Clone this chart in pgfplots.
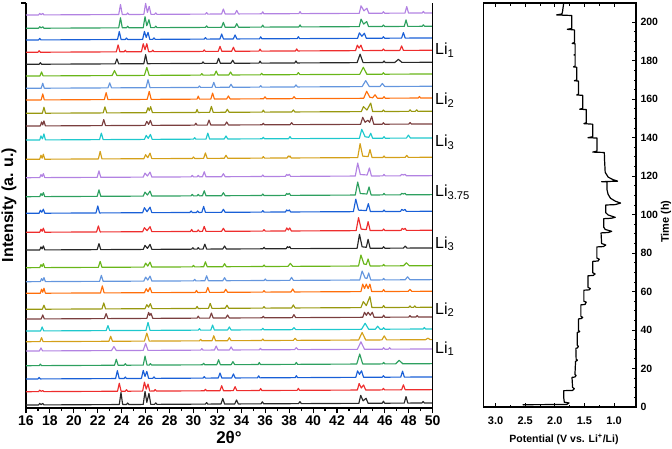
\documentclass[border=0pt]{standalone}
\usepackage{fontspec}
\setmainfont{Liberation Sans}
\usepackage{pgfplots}
\pgfplotsset{compat=1.18}
\definecolor{cK}{RGB}{40,40,40}
\definecolor{cR}{RGB}{238,45,45}
\definecolor{cB}{RGB}{25,95,215}
\definecolor{cG}{RGB}{45,160,95}
\definecolor{cP}{RGB}{178,130,226}
\definecolor{cY}{RGB}{212,160,25}
\definecolor{cC}{RGB}{30,200,205}
\definecolor{cN}{RGB}{122,62,62}
\definecolor{cO}{RGB}{152,152,15}
\definecolor{cE}{RGB}{255,110,10}
\definecolor{cL}{RGB}{100,150,222}
\definecolor{cM}{RGB}{105,182,25}
\begin{document}
\begin{tikzpicture}[x=1pt,y=1pt]
\useasboundingbox (0,0) rectangle (672,448);
\begin{axis}[at={(26pt,40pt)}, anchor=south west, scale only axis,
  width=406.7pt, height=405pt, xmin=16, xmax=50, ymin=0, ymax=405,
  axis lines=left, axis line style={-, line width=1.3pt},
  xtick={16,18,...,50}, minor x tick num=1, ytick={405}, yticklabels={},
  tick align=outside, major tick length=5pt, minor tick length=3pt,
  tick style={line width=1.1pt, black},
  xticklabel style={font=\fontsize{14}{14}\selectfont\bfseries, yshift=-1.5pt, inner sep=1pt},
  /pgf/number format/assume math mode=true,
  clip=false, no markers,
  every axis plot/.append style={line width=1.15pt, line join=round}]
% 1 black
\addplot[cK] table[row sep=\\,y expr=\thisrowno{1}+3+0.06*(\thisrowno{0}-16)]{16 0\\17.05 0\\17.15 1.5\\17.27 0.3\\17.4 1.5\\17.5 0\\23.8 0\\23.94 12\\24.08 0\\24.4 0\\24.5 1.5\\24.6 0\\25.8 0\\25.95 13\\26.1 2\\26.28 11\\26.43 0\\26.75 0\\26.85 1.5\\26.95 0\\31.0 0\\31.1 1.5\\31.2 0\\32.3 0\\32.45 5.5\\32.6 0\\33.45 0\\33.6 4\\33.75 0\\35.65 0\\35.76 2\\35.87 0\\38.78 0\\38.9 2\\39.02 0\\43.83 0\\43.98 8\\44.18 2.5\\44.43 5\\44.6 0\\45.78 0\\45.88 2\\45.98 0\\47.62 0\\47.77 6.5\\47.92 0\\49.1 0\\49.2 1.5\\49.3 0\\50 0\\};
% 2 red
\addplot[cR] table[row sep=\\,y expr=\thisrowno{1}+16.3+0.06*(\thisrowno{0}-16)]{16 0\\17.05 0\\17.15 1.5\\17.27 0.3\\17.4 1\\17.5 0\\23.65 0\\23.8 8\\23.95 0\\24.3 0\\24.4 1.5\\24.5 0\\25.75 0\\25.9 9\\26.05 2\\26.2 7\\26.35 0\\26.7 0\\26.8 1.5\\26.9 0\\30.9 0\\31.0 1.5\\31.1 0\\32.21 0\\32.36 5\\32.51 0\\33.33 0\\33.48 4\\33.63 0\\35.52 0\\35.62 2\\35.72 0\\38.67 0\\38.77 2\\38.87 0\\43.7 0\\43.85 6.5\\44.03 2\\44.22 5\\44.4 0\\45.78 0\\45.88 1.5\\45.98 0\\47.4 0\\47.55 5\\47.7 0\\50 0\\};
% 3 blue
\addplot[cB] table[row sep=\\,y expr=\thisrowno{1}+29+0.06*(\thisrowno{0}-16)]{16 0\\17.0 0\\17.1 1.5\\17.2 0\\23.49 0\\23.64 8\\23.79 0\\24.2 0\\24.3 1.5\\24.4 0\\25.65 0\\25.8 8\\25.95 2\\26.1 7\\26.25 0\\26.6 0\\26.7 1.5\\26.8 0\\30.8 0\\30.9 1.5\\31.0 0\\32.07 0\\32.22 5\\32.37 0\\33.19 0\\33.34 4\\33.49 0\\35.35 0\\35.45 2\\35.55 0\\38.5 0\\38.6 2\\38.7 0\\43.57 0\\43.72 6.5\\43.88 3\\44.05 6.5\\44.22 0\\45.78 0\\45.88 1.5\\45.98 0\\47.33 0\\47.48 6\\47.63 0\\50 0\\};
% 4 green
\addplot[cG] table[row sep=\\,y expr=\thisrowno{1}+42.3+0.06*(\thisrowno{0}-16)]{16 0\\17.1 0\\17.2 1.5\\17.3 0\\23.4 0\\23.55 6\\23.7 0\\24.2 0\\24.3 1.5\\24.4 0\\25.8 0\\25.95 9\\26.12 0\\26.3 0\\26.4 1.5\\26.5 0\\30.75 0\\30.85 1.5\\30.95 0\\31.95 0\\32.1 5\\32.25 0\\33.15 0\\33.3 3\\33.45 0\\35.4 0\\35.5 2\\35.6 0\\38.5 0\\38.6 2\\38.7 0\\43.65 0\\43.9 10\\44.15 0\\45.8 0\\45.9 1.5\\46.0 0\\46.9 0\\47.2 3.5\\47.5 0\\50 0\\};
% 5 purple
\addplot[cP] table[row sep=\\,y expr=\thisrowno{1}+57+0.06*(\thisrowno{0}-16)]{16 0\\17.12 0\\17.25 3\\17.38 0\\23.15 0\\23.35 4\\23.55 0\\25.8 0\\26.0 7\\26.2 0\\30.6 0\\30.7 1.5\\30.8 0\\31.75 0\\31.9 4\\32.05 0\\33.0 0\\33.15 3\\33.3 0\\35.5 0\\35.6 1.5\\35.7 0\\38.45 0\\38.6 2\\38.75 0\\43.7 0\\44.0 7.5\\44.3 0\\45.8 0\\45.9 1.5\\46.0 0\\46.3 0\\46.4 1.5\\46.5 0\\50 0\\};
% 6 gold
\addplot[cY] table[row sep=\\,y expr=\thisrowno{1}+66.3+0.06*(\thisrowno{0}-16)]{16 0\\17.17 0\\17.3 4\\17.43 0\\22.93 0\\23.08 5\\23.23 0\\25.9 0\\26.1 8\\26.3 0\\30.5 0\\30.6 1.5\\30.7 0\\31.55 0\\31.7 5\\31.85 0\\32.85 0\\33.0 3\\33.15 0\\35.7 0\\35.8 1.5\\35.9 0\\38.35 0\\38.5 2\\38.65 0\\43.8 0\\44.1 7.5\\44.4 0\\45.75 0\\45.95 4\\46.15 0\\49.4 0\\49.6 1.5\\49.8 0\\50 0\\};
% 7 cyan
\addplot[cC] table[row sep=\\,y expr=\thisrowno{1}+77+0.06*(\thisrowno{0}-16)]{16 0\\17.22 0\\17.35 4\\17.48 0\\22.7 0\\22.85 5\\23.0 0\\26.03 0\\26.2 8\\26.37 0\\30.4 0\\30.5 1.5\\30.6 0\\31.45 0\\31.6 5\\31.75 0\\32.85 0\\33.0 3\\33.15 0\\35.7 0\\35.8 1.5\\35.9 0\\38.25 0\\38.4 2\\38.55 0\\44.05 0\\44.35 6\\44.65 0\\45.2 0\\45.4 3\\45.6 0\\45.8 0\\45.9 1.5\\46.0 0\\49.2 0\\49.3 1.5\\49.4 0\\50 0\\};
% 8 brown
\addplot[cN] table[row sep=\\,y expr=\thisrowno{1}+89+0.06*(\thisrowno{0}-16)]{16 0\\17.27 0\\17.4 4\\17.53 0\\22.55 0\\22.7 5\\22.85 0\\26.1 0\\26.25 6\\26.35 3\\26.45 5\\26.6 0\\30.3 0\\30.4 2\\30.5 0\\31.35 0\\31.5 5\\31.65 0\\32.7 0\\32.85 3\\33.0 0\\35.74 0\\35.84 1.5\\35.94 0\\38.25 0\\38.4 3\\38.55 0\\44.15 0\\44.3 5\\44.45 2\\44.6 5\\44.78 2\\44.95 5\\45.1 0\\45.8 0\\45.9 2\\46.0 0\\48.0 0\\48.1 1.5\\48.2 0\\48.6 0\\48.7 1.5\\48.8 0\\50 0\\};
% 9 olive
\addplot[cO] table[row sep=\\,y expr=\thisrowno{1}+98.7+0.06*(\thisrowno{0}-16)]{16 0\\17.37 0\\17.5 4\\17.63 0\\22.35 0\\22.5 6\\22.65 0\\25.95 0\\26.1 4\\26.25 1.5\\26.4 5\\26.55 0\\30.2 0\\30.3 2\\30.4 0\\31.25 0\\31.4 5\\31.55 0\\32.65 0\\32.8 3\\32.95 0\\35.8 0\\35.9 1.5\\36.0 0\\38.2 0\\38.35 3\\38.5 0\\44.0 0\\44.2 6\\44.45 2\\44.75 11\\44.92 0\\45.8 0\\45.9 2\\46.0 0\\48.0 0\\48.1 1.5\\48.2 0\\48.4 0\\48.5 1.5\\48.6 0\\50 0\\};
% 10 orange
\addplot[cE] table[row sep=\\,y expr=\thisrowno{1}+114.7+0.06*(\thisrowno{0}-16)]{16 0\\17.2 0\\17.3 4\\17.4 1\\17.5 5\\17.62 0\\22.23 0\\22.38 7\\22.53 0\\25.9 0\\26.05 4\\26.2 1\\26.37 5\\26.52 0\\30.15 0\\30.25 2\\30.35 0\\31.05 0\\31.2 5\\31.35 0\\32.55 0\\32.7 3\\32.85 0\\35.8 0\\35.9 1.5\\36.0 0\\38.15 0\\38.3 3\\38.45 0\\44.0 0\\44.15 7.5\\44.3 3\\44.45 7.5\\44.6 3\\44.75 7.5\\44.9 0\\45.8 0\\45.9 2\\46.0 0\\47.95 0\\48.1 2\\48.25 0\\50 0\\};
% 11 light blue
\addplot[cL] table[row sep=\\,y expr=\thisrowno{1}+126.3+0.06*(\thisrowno{0}-16)]{16 0\\17.2 0\\17.3 3\\17.4 1\\17.5 4\\17.62 0\\22.15 0\\22.3 6\\22.45 0\\25.85 0\\26.0 4\\26.18 1\\26.37 5\\26.52 0\\30.0 0\\30.1 1.5\\30.2 0\\30.95 0\\31.1 5\\31.25 0\\32.45 0\\32.6 3\\32.75 0\\35.9 0\\36.0 1.5\\36.1 0\\38.05 0\\38.2 3\\38.35 0\\43.9 0\\44.1 9\\44.35 2\\44.5 1.5\\44.65 7\\44.82 0\\45.8 0\\45.9 1.5\\46.0 0\\47.7 0\\47.9 3\\48.1 0\\50 0\\};
% 12 lime
\addplot[cM] table[row sep=\\,y expr=\thisrowno{1}+140.3+0.06*(\thisrowno{0}-16)]{16 0\\17.15 0\\17.25 3\\17.35 1\\17.45 4\\17.57 0\\22.05 0\\22.2 6\\22.35 0\\25.85 0\\26.0 4\\26.18 1\\26.37 5\\26.52 0\\29.9 0\\30.0 1.5\\30.1 0\\30.85 0\\31.0 5\\31.15 0\\32.45 0\\32.6 3\\32.75 0\\35.8 0\\35.9 1.5\\36.0 0\\37.9 0\\38.1 3\\38.3 0\\43.8 0\\44.0 11\\44.25 2\\44.45 1.5\\44.6 7\\44.77 0\\45.8 0\\45.9 1.5\\46.0 0\\47.55 0\\47.8 3\\48.05 0\\50 0\\};
% 13 black
\addplot[cK] table[row sep=\\,y expr=\thisrowno{1}+158+0.06*(\thisrowno{0}-16)]{16 0\\17.15 0\\17.25 3\\17.35 1\\17.45 4\\17.57 0\\21.95 0\\22.1 6\\22.25 0\\25.8 0\\25.95 4\\26.15 1\\26.37 5\\26.52 0\\29.85 0\\29.95 1.5\\30.05 0\\30.3 0\\30.4 1.5\\30.5 0\\30.8 0\\30.95 5\\31.1 0\\32.45 0\\32.6 3\\32.75 0\\35.8 0\\35.9 1.5\\36.0 0\\37.75 0\\37.85 2\\37.95 1\\38.05 2\\38.15 0\\43.68 0\\43.88 14\\44.1 1.5\\44.45 1\\44.6 9\\44.77 0\\45.8 0\\45.9 1.5\\46.0 0\\47.55 0\\47.7 2\\47.85 0\\50 0\\};
% 14 red
\addplot[cR] table[row sep=\\,y expr=\thisrowno{1}+175.7+0.06*(\thisrowno{0}-16)]{16 0\\17.15 0\\17.25 3\\17.35 1\\17.45 4\\17.57 0\\21.9 0\\22.05 6\\22.2 0\\25.75 0\\25.9 4\\26.12 1\\26.37 5\\26.52 0\\29.75 0\\29.85 2\\29.95 0\\30.3 0\\30.4 1.5\\30.5 0\\30.75 0\\30.9 5\\31.05 0\\32.35 0\\32.5 3\\32.65 0\\35.8 0\\35.9 1.5\\36.0 0\\37.68 0\\37.8 3\\37.93 1\\38.05 3\\38.18 0\\43.6 0\\43.8 13\\44.02 1.5\\44.45 1\\44.6 9\\44.77 0\\45.8 0\\45.9 1.5\\46.0 0\\47.35 0\\47.45 2\\47.57 1\\47.7 2\\47.8 0\\50 0\\};
% 15 blue
\addplot[cB] table[row sep=\\,y expr=\thisrowno{1}+194.7+0.06*(\thisrowno{0}-16)]{16 0\\17.1 0\\17.2 3\\17.32 1\\17.45 4\\17.57 0\\21.85 0\\22.0 7\\22.15 0\\25.75 0\\25.9 5\\26.12 1\\26.37 5.5\\26.52 0\\29.7 0\\29.8 1.5\\29.9 0\\30.25 0\\30.35 1.5\\30.45 0\\30.7 0\\30.85 6\\31.0 0\\32.35 0\\32.5 3\\32.65 0\\35.7 0\\35.8 1.5\\35.9 0\\37.69 0\\37.79 2\\37.9 1\\38.02 2\\38.12 0\\43.37 0\\43.57 12.5\\43.8 1.5\\44.45 1\\44.62 8\\44.79 0\\45.83 0\\45.93 1.5\\46.03 0\\47.31 0\\47.41 2\\47.55 1\\47.69 2\\47.79 0\\50 0\\};
% 16 green
\addplot[cG] table[row sep=\\,y expr=\thisrowno{1}+211.3+0.06*(\thisrowno{0}-16)]{16 0\\17.15 0\\17.25 3\\17.35 1\\17.45 4\\17.57 0\\21.95 0\\22.1 6.5\\22.25 0\\25.8 0\\25.95 4\\26.15 1\\26.37 5\\26.52 0\\29.8 0\\29.9 1.5\\30.0 0\\30.3 0\\30.4 1.5\\30.5 0\\30.75 0\\30.9 5\\31.05 0\\32.35 0\\32.5 3\\32.65 0\\35.7 0\\35.8 1.5\\35.9 0\\37.69 0\\37.79 2\\37.9 1\\38.02 2\\38.12 0\\43.53 0\\43.73 13\\43.95 1.5\\44.5 1\\44.68 8\\44.85 0\\45.83 0\\45.93 1.5\\46.03 0\\47.31 0\\47.41 1.5\\47.55 0.8\\47.69 1.5\\47.79 0\\50 0\\};
% 17 purple
\addplot[cP] table[row sep=\\,y expr=\thisrowno{1}+230.3+0.06*(\thisrowno{0}-16)]{16 0\\17.15 0\\17.25 3\\17.35 1\\17.45 4\\17.57 0\\21.95 0\\22.1 6.5\\22.25 0\\25.8 0\\25.95 4\\26.15 1\\26.37 5\\26.52 0\\29.8 0\\29.9 1.5\\30.0 0\\30.3 0\\30.4 1.5\\30.5 0\\30.75 0\\30.9 5\\31.05 0\\32.35 0\\32.5 3\\32.65 0\\35.7 0\\35.8 1.5\\35.9 0\\37.69 0\\37.79 2\\37.9 1\\38.02 2\\38.12 0\\43.53 0\\43.73 13\\43.95 1.5\\44.52 1\\44.71 8\\44.88 0\\45.83 0\\45.93 1.5\\46.03 0\\47.3 0\\47.4 1.5\\47.55 0.8\\47.7 1.5\\47.8 0\\50 0\\};
% 18 gold
\addplot[cY] table[row sep=\\,y expr=\thisrowno{1}+248.7+0.06*(\thisrowno{0}-16)]{16 0\\17.15 0\\17.25 4\\17.35 1\\17.45 5\\17.57 0\\22.05 0\\22.2 7.5\\22.35 0\\25.85 0\\26.0 4\\26.18 1\\26.37 5.5\\26.52 0\\29.9 0\\30.0 1.5\\30.1 0\\30.85 0\\31.0 5.5\\31.15 0\\32.57 0\\32.72 3\\32.87 0\\35.74 0\\35.84 1.5\\35.94 0\\37.83 0\\37.93 2\\38.0 1\\38.07 2\\38.17 0\\43.73 0\\43.93 14\\44.15 1.5\\44.6 1\\44.76 8\\44.93 0\\45.83 0\\45.93 1.5\\46.03 0\\47.7 0\\47.83 2\\47.96 0\\50 0\\};
% 19 cyan
\addplot[cC] table[row sep=\\,y expr=\thisrowno{1}+268+0.06*(\thisrowno{0}-16)]{16 0\\17.15 0\\17.25 4\\17.37 1\\17.5 6\\17.62 0\\22.15 0\\22.3 6.5\\22.45 0\\25.9 0\\26.05 4\\26.22 1\\26.4 5\\26.55 0\\30.0 0\\30.1 1.5\\30.2 0\\31.05 0\\31.2 6\\31.35 0\\32.57 0\\32.72 3\\32.87 0\\35.74 0\\35.84 1.5\\35.94 0\\37.95 0\\38.07 2\\38.19 0\\43.87 0\\44.07 9\\44.35 1.5\\44.66 1\\44.82 5\\44.98 0\\45.83 0\\45.93 1.5\\46.03 0\\47.8 0\\47.97 3\\48.14 0\\50 0\\};
% 20 brown
\addplot[cN] table[row sep=\\,y expr=\thisrowno{1}+282+0.06*(\thisrowno{0}-16)]{16 0\\17.2 0\\17.3 4\\17.4 1\\17.5 5\\17.62 0\\22.35 0\\22.5 6\\22.65 0\\25.95 0\\26.1 4\\26.25 1\\26.4 5\\26.55 0\\30.1 0\\30.2 2\\30.3 0\\31.15 0\\31.3 5\\31.45 0\\32.63 0\\32.78 3\\32.93 0\\35.74 0\\35.84 1.5\\35.94 0\\38.08 0\\38.21 2\\38.34 0\\43.97 0\\44.15 7\\44.35 2\\44.57 4\\44.73 2\\44.9 8\\45.07 0\\45.78 0\\45.88 1.5\\45.98 0\\48.0 0\\48.11 1.5\\48.22 0\\50 0\\};
% 21 olive
\addplot[cO] table[row sep=\\,y expr=\thisrowno{1}+294.7+0.06*(\thisrowno{0}-16)]{16 0\\17.37 0\\17.5 6\\17.63 0\\22.45 0\\22.6 6\\22.75 0\\26.05 0\\26.2 5\\26.31 2\\26.42 6\\26.57 0\\30.2 0\\30.3 3\\30.4 0\\31.35 0\\31.5 6\\31.65 0\\32.68 0\\32.83 3\\32.98 0\\35.74 0\\35.84 2\\35.94 0\\38.22 0\\38.35 2\\38.48 0\\44.03 0\\44.21 5\\44.5 1.5\\44.82 8.5\\44.98 0\\45.78 0\\45.88 1.5\\45.98 0\\48.0 0\\48.11 1.5\\48.22 0\\48.55 0\\48.66 1.5\\48.77 0\\50 0\\};
% 22 orange
\addplot[cE] table[row sep=\\,y expr=\thisrowno{1}+308+0.06*(\thisrowno{0}-16)]{16 0\\17.27 0\\17.4 6\\17.53 0\\22.55 0\\22.7 7\\22.85 0\\26.13 0\\26.3 8\\26.47 0\\30.3 0\\30.4 3\\30.5 0\\31.45 0\\31.6 6\\31.75 0\\32.77 0\\32.92 3\\33.07 0\\35.86 0\\35.98 2\\36.1 0\\38.28 0\\38.41 2\\38.54 0\\44.23 0\\44.48 7\\44.75 1\\44.98 0.5\\45.18 3.5\\45.38 0\\45.83 0\\45.93 1.5\\46.03 0\\48.79 0\\48.89 1.5\\48.99 0\\50 0\\};
% 23 light blue
\addplot[cL] table[row sep=\\,y expr=\thisrowno{1}+319.7+0.06*(\thisrowno{0}-16)]{16 0\\17.27 0\\17.4 5\\17.53 0\\22.85 0\\23.0 5\\23.15 0\\26.03 0\\26.2 8\\26.37 0\\30.4 0\\30.5 1.5\\30.6 0\\31.55 0\\31.7 5\\31.85 0\\32.99 0\\33.14 3\\33.29 0\\35.52 0\\35.62 1.5\\35.72 0\\38.44 0\\38.57 2\\38.7 0\\44.1 0\\44.4 6\\44.7 0\\45.59 0\\45.79 3\\45.99 0\\50 0\\};
% 24 lime
\addplot[cM] table[row sep=\\,y expr=\thisrowno{1}+332+0.06*(\thisrowno{0}-16)]{16 0\\17.17 0\\17.3 4\\17.43 0\\23.2 0\\23.4 5\\23.6 0\\25.9 0\\26.1 8\\26.3 0\\30.6 0\\30.7 1.5\\30.8 0\\31.75 0\\31.9 4\\32.05 0\\32.95 0\\33.1 3\\33.25 0\\35.6 0\\35.7 1.5\\35.8 0\\38.64 0\\38.77 2\\38.9 0\\43.9 0\\44.2 7\\44.5 0\\45.78 0\\45.88 1.5\\45.98 0\\50 0\\};
% 25 black
\addplot[cK] table[row sep=\\,y expr=\thisrowno{1}+343.7+0.06*(\thisrowno{0}-16)]{16 0\\17.1 0\\17.2 1.5\\17.3 0\\23.45 0\\23.6 5\\23.75 0\\25.85 0\\26.0 9\\26.15 0\\30.7 0\\30.8 1.5\\30.9 0\\31.95 0\\32.1 5\\32.25 0\\33.13 0\\33.28 3\\33.43 0\\35.47 0\\35.57 2\\35.67 0\\38.47 0\\38.57 2\\38.67 0\\43.68 0\\43.93 8.5\\44.18 0\\45.83 0\\45.93 1.5\\46.03 0\\46.83 0\\47.13 3\\47.43 0\\50 0\\};
% 26 red
\addplot[cR] table[row sep=\\,y expr=\thisrowno{1}+355.7+0.06*(\thisrowno{0}-16)]{16 0\\17.0 0\\17.1 1.5\\17.2 0\\23.55 0\\23.7 7\\23.85 0\\24.2 0\\24.3 1.5\\24.4 0\\25.65 0\\25.8 8\\25.95 2\\26.1 8\\26.25 0\\26.5 0\\26.6 1.5\\26.7 0\\30.8 0\\30.9 1.5\\31.0 0\\32.07 0\\32.22 5\\32.37 0\\33.19 0\\33.34 4\\33.49 0\\35.47 0\\35.57 2\\35.67 0\\38.53 0\\38.63 2\\38.73 0\\43.55 0\\43.7 5.5\\43.85 2.5\\44.0 5.5\\44.17 0\\45.78 0\\45.88 1.5\\45.98 0\\47.25 0\\47.4 4.5\\47.55 0\\50 0\\};
% 27 blue
\addplot[cB] table[row sep=\\,y expr=\thisrowno{1}+368+0.06*(\thisrowno{0}-16)]{16 0\\17.05 0\\17.15 1.5\\17.25 0\\23.65 0\\23.8 8\\23.95 0\\24.3 0\\24.4 1.5\\24.5 0\\25.75 0\\25.9 8\\26.05 2\\26.2 7\\26.35 0\\26.6 0\\26.7 1.5\\26.8 0\\30.9 0\\31.0 1.5\\31.1 0\\32.21 0\\32.36 5\\32.51 0\\33.33 0\\33.48 4\\33.63 0\\35.52 0\\35.62 2\\35.72 0\\38.67 0\\38.77 2\\38.87 0\\43.72 0\\43.87 5.5\\44.08 2\\44.29 5\\44.45 0\\45.78 0\\45.88 1.5\\45.98 0\\47.4 0\\47.55 5.5\\47.7 0\\50 0\\};
% 28 green
\addplot[cG] table[row sep=\\,y expr=\thisrowno{1}+379.7+0.06*(\thisrowno{0}-16)]{16 0\\17.05 0\\17.15 1.5\\17.27 0.3\\17.4 1.5\\17.5 0\\23.75 0\\23.9 10\\24.05 0\\24.4 0\\24.5 1.5\\24.6 0\\25.8 0\\25.95 11\\26.1 2\\26.28 8\\26.43 0\\26.75 0\\26.85 1.5\\26.95 0\\31.0 0\\31.1 1.5\\31.2 0\\32.35 0\\32.5 5\\32.65 0\\33.47 0\\33.62 3.5\\33.77 0\\35.69 0\\35.79 2\\35.89 0\\38.81 0\\38.91 2\\39.01 0\\43.86 0\\44.01 7.5\\44.23 2.5\\44.48 5\\44.64 0\\45.78 0\\45.88 1.5\\45.98 0\\47.62 0\\47.77 6.5\\47.92 0\\49.12 0\\49.22 1.5\\49.32 0\\50 0\\};
% 29 purple
\addplot[cP] table[row sep=\\,y expr=\thisrowno{1}+393+0.06*(\thisrowno{0}-16)]{16 0\\17.05 0\\17.15 1.5\\17.27 0.3\\17.4 1.5\\17.5 0\\23.75 0\\23.9 10\\24.05 0\\24.4 0\\24.5 1.5\\24.6 0\\25.85 0\\26.0 11\\26.15 2\\26.3 8\\26.45 0\\26.75 0\\26.85 1.5\\26.95 0\\31.0 0\\31.1 1.5\\31.2 0\\32.35 0\\32.5 5\\32.65 0\\33.47 0\\33.62 3.5\\33.77 0\\35.69 0\\35.79 2\\35.89 0\\38.81 0\\38.91 2\\39.01 0\\43.86 0\\44.01 7.5\\44.25 2.5\\44.5 5\\44.66 0\\45.78 0\\45.88 1.5\\45.98 0\\47.68 0\\47.83 6.5\\47.98 0\\49.12 0\\49.22 1.5\\49.32 0\\50 0\\};
\draw[line width=1.3pt] (rel axis cs:1,0) -- (rel axis cs:1,1);
\end{axis}
\begin{axis}[at={(483.7pt,41pt)}, anchor=south west, scale only axis,
  width=152.3pt, height=404pt, xmin=0.63, xmax=3.2, x dir=reverse,
  ymin=0, ymax=210,
  xtick={1,1.5,2,2.5,3}, minor x tick num=1,
  ytick={0,20,...,200}, minor y tick num=3,
  ytick pos=right, yticklabel pos=right, xtick pos=both, xticklabel pos=lower,
  tick align=inside, major tick length=4pt, minor tick length=2.5pt,
  tick style={line width=0.9pt, black},
  axis line style={line width=1.3pt},
  xticklabel style={font=\fontsize{11}{11}\selectfont\bfseries, yshift=-6pt,
    /pgf/number format/.cd, fixed, fixed zerofill, precision=1},
  yticklabel style={font=\fontsize{10.5}{10.5}\selectfont\bfseries, xshift=1pt},
  /pgf/number format/assume math mode=true, no markers]
\addplot[black, line width=1.2pt, line join=round] coordinates {
(2.54,0.9) (2.53,1.2) (1.80,1.3) (1.76,2.1) (1.84,2.5) (1.85,5) (1.85,8.5)
(1.70,8.6) (1.67,9.5) (1.70,10.2) (1.71,15.4)
(1.66,15.6) (1.64,16.4) (1.66,16.9) (1.65,23.8)
(1.63,24.0) (1.62,24.4) (1.64,24.8) (1.645,30.5)
(1.62,30.7) (1.60,31.5) (1.62,32) (1.62,38.8)
(1.59,39.0) (1.58,39.3) (1.60,39.7) (1.60,45.8)
(1.55,46.0) (1.53,46.6) (1.56,47.1) (1.56,53.1)
(1.49,53.3) (1.47,54.5) (1.51,55.0) (1.51,60.7)
(1.42,60.9) (1.40,61.6) (1.44,62.2) (1.44,68.2)
(1.35,68.4) (1.32,69.2) (1.36,69.8) (1.36,75.7)
(1.27,75.9) (1.25,76.8) (1.29,77.4) (1.29,83.2)
(1.18,83.4) (1.14,84.2) (1.21,85.0) (1.22,90.5)
(1.10,90.7) (1.04,91.3) (1.15,92.3) (1.175,93.5) (1.175,97.9)
(1.05,98.1) (0.98,98.6) (1.10,99.8) (1.14,101) (1.14,105.0)
(0.98,105.2) (0.89,106.0) (0.98,107) (1.06,108.5) (1.10,110.5) (1.12,113) (1.12,117.0)
(1.21,117.1) (0.94,117.4) (1.02,118.2) (1.10,119.5) (1.15,122) (1.16,128) (1.165,132.3)
(1.36,132.5) (1.29,133.0) (1.287,139.8)
(1.44,140.0) (1.36,140.5) (1.36,147.0)
(1.51,147.3) (1.47,147.8) (1.47,154.6)
(1.58,154.8) (1.53,155.2) (1.53,162.0)
(1.63,162.2) (1.60,162.6) (1.60,169.4)
(1.67,169.6) (1.63,170.0) (1.63,176.6)
(1.685,176.8) (1.657,177.2) (1.657,182.8) (1.675,183) (1.657,183.3) (1.657,188.8)
(1.708,189.0) (1.668,189.5) (1.668,196.0)
(1.79,196.3) (1.713,196.8) (1.713,203.5)
(1.97,203.8) (1.88,204.3) (1.87,205.5) (1.85,210)};
\end{axis}
% labels
\node[rotate=90, font=\fontsize{16}{16}\selectfont\bfseries] at (9,243) {Intensity (a. u.)};
\node[inner sep=0pt, font=\fontsize{17}{17}\selectfont\bfseries] at (229,10.5) {2θ°};
\begin{scope}[every node/.style={anchor=base west, inner sep=0pt, font=\fontsize{16}{16}\selectfont}]
\node at (435,393) {Li\textsubscript{1}};
\node at (435,343) {Li\textsubscript{2}};
\node at (435,301.3) {Li\textsubscript{3}};
\node at (435,251.3) {Li\textsubscript{3.75}};
\node at (435,199.7) {Li\textsubscript{3}};
\node at (435,134) {Li\textsubscript{2}};
\node at (435,94.7) {Li\textsubscript{1}};
\end{scope}
\node[font=\fontsize{10.5}{10.5}\selectfont\bfseries] at (564,9) {Potential (V vs. Li\textsuperscript{+}/Li)};
\node[rotate=90, font=\fontsize{11}{11}\selectfont\bfseries] at (666,226.3) {Time (h)};
\end{tikzpicture}
\end{document}
